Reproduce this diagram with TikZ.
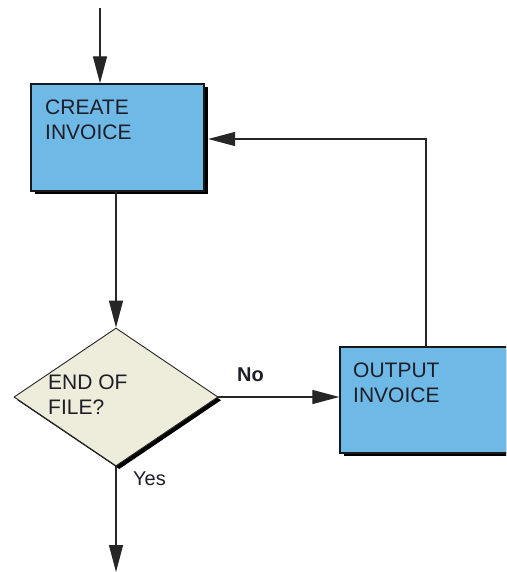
\documentclass[tikz,border=0pt]{standalone}
\usepackage{fontspec}
\setmainfont{Liberation Sans}
\usetikzlibrary{arrows.meta,shapes.geometric,shadows,calc}
\definecolor{boxblue}{RGB}{110,185,230}
\definecolor{decbeige}{RGB}{238,236,218}
\definecolor{txt}{RGB}{30,30,40}
\begin{document}
\begin{tikzpicture}[x=1pt,y=-1pt,
  procbox/.style={rectangle, draw=black!90, line width=1.4pt, fill=boxblue, inner sep=0pt,
    drop shadow={shadow xshift=3.5pt, shadow yshift=-3pt, fill=black, opacity=1}},
  decbox/.style={diamond, draw=black!85, line width=0.9pt, fill=decbeige, inner sep=0pt,
    drop shadow={shadow xshift=3.2pt, shadow yshift=-3.2pt, fill=black, opacity=1}},
  lbl/.style={anchor=north west, inner sep=0pt, align=left, text=txt,
    font={\fontsize{21}{25}\selectfont}},
  arr/.style={draw=black!85, line width=1.3pt, -{Triangle[length=27pt,width=14pt]}}
]
\clip (0,0) rectangle (506,572);
\node[procbox, minimum width=173pt, minimum height=107pt] (cbox) at (117.5,137.5) {};
\node[procbox, minimum width=172pt, minimum height=106pt] (obox) at (426,400) {};
\node[decbox, minimum width=204pt, minimum height=138pt] (dec) at (116,397) {};
\node[lbl] (ctext) at (45,100) {CREATE\\INVOICE};
\node[lbl] (otext) at (353,363) {OUTPUT\\INVOICE};
\node[lbl] (dtext) at (48,375) {END OF\\FILE?};
\node[lbl, font={\fontsize{20}{24}\selectfont\bfseries}] (nolbl) at (237,368) {No};
\node[lbl, font={\fontsize{20}{24}\selectfont}] (yeslbl) at (133,472) {Yes};
\coordinate (topin) at (100,8);
\coordinate (botout) at (116,572);
\draw[arr] (topin) -- (topin |- cbox.north);
\draw[arr] (dec.north |- cbox.south) -- (dec.north);
\draw[arr] (dec.east) -- (obox.west |- dec.east);
\draw[arr, shorten >=3.5pt] (obox.north) |- ([yshift=-1.5pt]cbox.east);
\draw[arr] (dec.south) -- (botout);
\end{tikzpicture}
\end{document}
